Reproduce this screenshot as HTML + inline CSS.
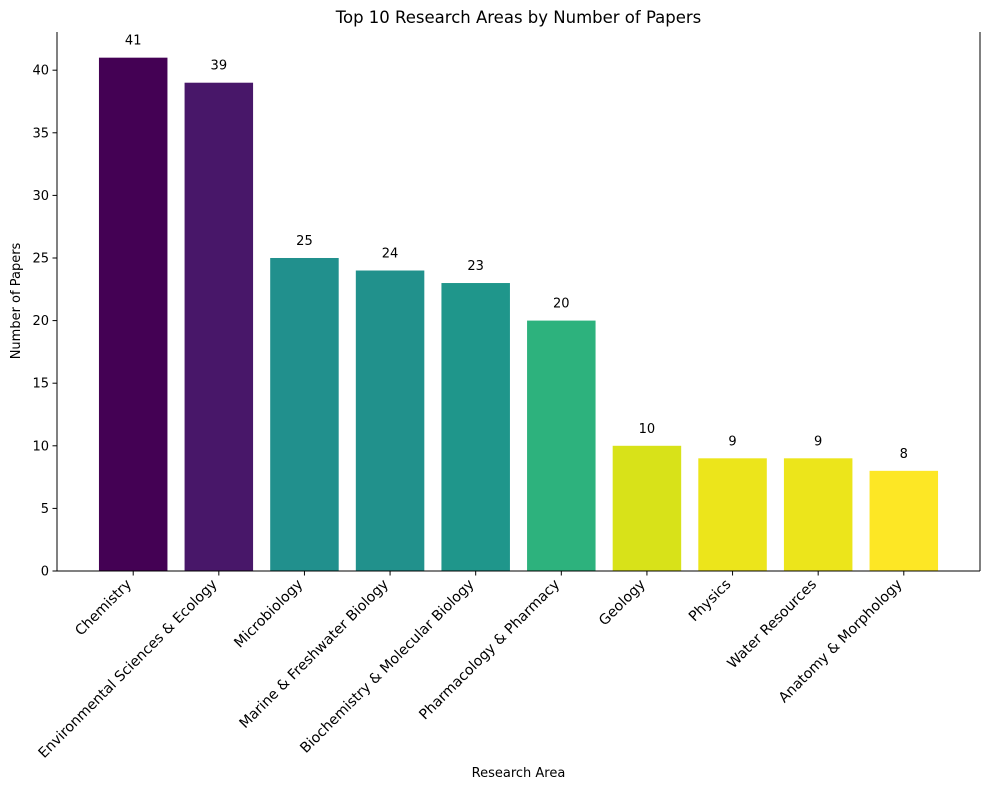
<!DOCTYPE html>
<html><head><meta charset="utf-8"><style>
body{margin:0;background:#fff;}
svg text{font-family:"DejaVu Sans","Liberation Sans",sans-serif;fill:#000;}
</style></head><body>
<svg id="chart" width="989" height="790" xmlns="http://www.w3.org/2000/svg">
<text x="518.5" y="23" font-size="16.5" text-anchor="middle">Top 10 Research Areas by Number of Papers</text>
<text x="518.5" y="777" font-size="13" text-anchor="middle">Research Area</text>
<text transform="translate(20,301) rotate(-90)" font-size="13" text-anchor="middle">Number of Papers</text>
<g id="plot"></g>
</svg>
<script>
const categories=["Chemistry","Environmental Sciences & Ecology","Microbiology","Marine & Freshwater Biology","Biochemistry & Molecular Biology","Pharmacology & Pharmacy","Geology","Physics","Water Resources","Anatomy & Morphology"];
const values=[41,39,25,24,23,20,10,9,9,8];
const colors=["#440154","#481769","#21908d","#21918c","#1f968b","#2db27d","#d8e219","#ece51b","#ece51b","#fde725"];
const yTicks=[0,5,10,15,20,25,30,35,40];
const L=57,R=980,T=32,B=571;
const n=categories.length;
const ymax=Math.max(...values)*1.05;
const xmin=-0.4-(n-0.2)*0.05, xmax=n-1+0.4+(n-0.2)*0.05;
const xs=i=>L+(i-xmin)/(xmax-xmin)*(R-L);
const ys=v=>B-v/ymax*(B-T);
const NS="http://www.w3.org/2000/svg";
const g=document.getElementById('plot');
function mk(t,a){const e=document.createElementNS(NS,t);for(const k in a)e.setAttribute(k,a[k]);g.appendChild(e);return e;}
const bw=0.8*(xs(1)-xs(0));
values.forEach((v,i)=>{
 const r=mk('rect',{x:xs(i)-bw/2,y:ys(v),width:bw,height:B-ys(v),fill:colors[i]});
 
 
 const t=mk('text',{x:xs(i),y:ys(v)-13,'font-size':13,'text-anchor':'middle'});
 t.textContent=v;
 
 
 const tk=mk('line',{x1:xs(i),x2:xs(i),y1:B,y2:B+4.5,stroke:'#000','stroke-width':1});
 
 
 const lb=mk('text',{transform:`translate(${xs(i)-1},${B+14}) rotate(-45)`,'font-size':14.2,'text-anchor':'end'});
 lb.textContent=categories[i];
 
 
});
yTicks.forEach(v=>{
 const tk=mk('line',{x1:L-4.5,x2:L,y1:ys(v),y2:ys(v),stroke:'#000','stroke-width':1});
 
 
 const t=mk('text',{x:L-8,y:ys(v)+4.5,'font-size':13,'text-anchor':'end'});
 t.textContent=v;
 
 
});
const s1=mk('line',{x1:L,x2:L,y1:T,y2:B,stroke:'#000','stroke-width':1});


const s2=mk('line',{x1:L,x2:R,y1:B,y2:B,stroke:'#000','stroke-width':1});


const s3=mk('line',{x1:R,x2:R,y1:T,y2:B,stroke:'#000','stroke-width':1});


</script>
</body></html>
